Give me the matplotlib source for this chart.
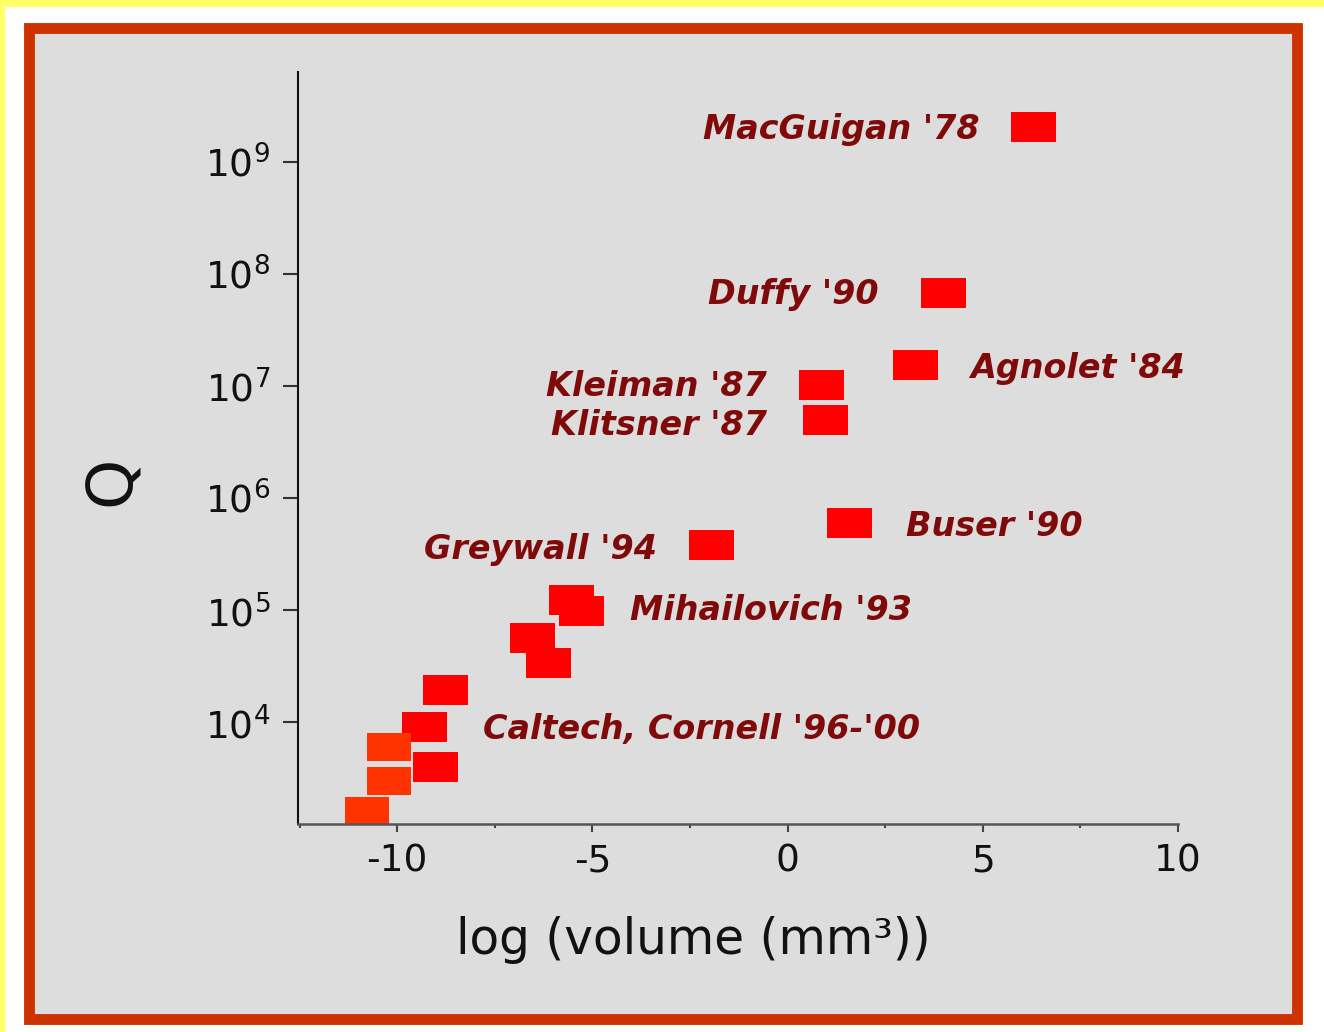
import numpy as np
import matplotlib
matplotlib.use("Agg")
import matplotlib.pyplot as plt
from matplotlib.patches import Rectangle
from matplotlib.ticker import FixedLocator, MultipleLocator, NullLocator

plt.rcParams['font.family'] = ['DejaVu Sans']
plt.rcParams['mathtext.fontset'] = 'dejavusans'
plt.rcParams['axes.unicode_minus'] = False

# data: log10(volume / mm^3) and quality factor Q
log_volume = [6.29, 3.98, 3.27, 0.86, 0.96, 1.57, -1.96, -5.54, -5.30,
              -6.54, -6.13, -8.77, -9.31, -9.03]
q_value = [2.04e9, 6.8e7, 1.55e7, 1.02e7, 5.0e6, 6.0e5, 3.8e5, 1.23e5, 9.8e4,
           5.6e4, 3.4e4, 1.95e4, 9.1e3, 4.0e3]
# the three lowest points are drawn in orange-red
log_volume_low = [-10.21, -10.21, -10.78]
q_value_low = [6.0e3, 3.0e3, 1.6e3]

labels = ["MacGuigan '78", "Duffy '90", "Agnolet '84", "Kleiman '87", "Klitsner '87",
          "Buser '90", "Greywall '94", "Mihailovich '93", "Caltech, Cornell '96-'00"]
# where each label sits (data coords) and which side it is anchored on
label_x = [4.93, 2.32, 4.67, -0.52, -0.52, 3.03, -3.34, -4.03, -7.80]
label_y = [2.1e9, 7.0e7, 1.55e7, 1.05e7, 4.8e6, 6.0e5, 3.7e5, 1.06e5, 9.2e3]
label_ha = ['right', 'right', 'left', 'right', 'right', 'left', 'right', 'left', 'left']

y_ticks = [1e4, 1e5, 1e6, 1e7, 1e8, 1e9]
x_ticks = [-10, -5, 0, 5, 10]

W, H = 1324, 1032
fig = plt.figure(figsize=(W / 100, H / 100), dpi=100)
fig.patch.set_facecolor('white')


def fx(px):
    return px / W


def fy(py):
    return 1 - py / H


# yellow strips on top and left edge
fig.add_artist(Rectangle((0, fy(7)), 1, 7 / H, transform=fig.transFigure,
                         facecolor='#ffff66', edgecolor='none', zorder=-2))
fig.add_artist(Rectangle((0, 0), fx(5), 1, transform=fig.transFigure,
                         facecolor='#ffff66', edgecolor='none', zorder=-2))
# framed gray panel
fig.add_artist(Rectangle((fx(29), fy(1019)), fx(1296.5) - fx(29), fy(28) - fy(1019),
                         transform=fig.transFigure, facecolor='#dddddd',
                         edgecolor='#cc3300', linewidth=7.8, zorder=-1))

ax = fig.add_axes([fx(298), fy(824), fx(1178) - fx(298), fy(72) - fy(824)])
ax.set_facecolor('none')

rect = [(-1, -0.667), (1, -0.667), (1, 0.667), (-1, 0.667), (-1, -0.667)]
ax.plot(log_volume, q_value, linestyle='none', marker=rect, markersize=32.4,
        color='#ff0000', markeredgewidth=0, clip_on=False)
ax.plot(log_volume_low, q_value_low, linestyle='none', marker=rect, markersize=31,
        color='#ff3300', markeredgewidth=0, clip_on=False)

for t, x, y, ha in zip(labels, label_x, label_y, label_ha):
    ax.text(x, y, t, ha=ha, va='center_baseline', fontsize=24, fontweight='bold',
            fontstyle='italic', color='#800a0a')

ax.set_yscale('log')
ax.set_xlim(-12.54, 10)
ax.set_ylim(10 ** 3.091, 10 ** 9.80)

ax.yaxis.set_major_locator(FixedLocator(y_ticks))
ax.yaxis.set_minor_locator(NullLocator())
ax.set_yticklabels(['10$^{%d}$' % int(round(np.log10(v))) for v in y_ticks])
ax.xaxis.set_major_locator(FixedLocator(x_ticks))
ax.xaxis.set_minor_locator(MultipleLocator(2.5))
ax.set_xticklabels([str(v) for v in x_ticks])

for s in ['top', 'right']:
    ax.spines[s].set_visible(False)
ax.spines['left'].set_color('#111111')
ax.spines['left'].set_linewidth(1.5)
ax.spines['bottom'].set_color('#555555')
ax.spines['bottom'].set_linewidth(1.8)

ax.tick_params(axis='y', which='major', length=11, width=1.5, color='#333333',
               labelsize=27, pad=9, labelcolor='#111111')
ax.tick_params(axis='x', which='major', length=6, width=1.5, color='#444444',
               labelsize=27, pad=8, labelcolor='#111111')
ax.tick_params(axis='x', which='minor', length=3, width=1.5, color='#444444')

ax.set_xlabel('log (volume (mm³))', fontsize=35, color='#111111', va='center')
ax.xaxis.set_label_coords(0.449, -0.154)
ax.set_ylabel('Q', fontsize=46, color='#111111', va='center')
ax.yaxis.set_label_coords(-0.211, 0.457)

fig.savefig('out.png', dpi=100)
